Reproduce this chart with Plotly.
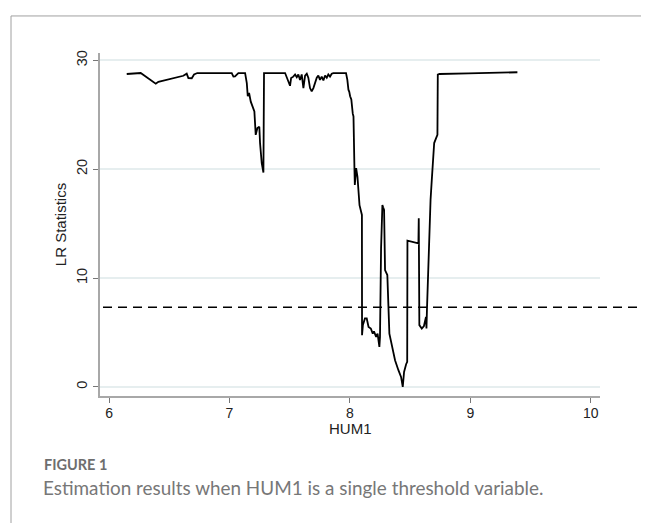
import plotly.graph_objects as go

# HUM1 threshold values and LR statistics
hum1 = [6.147, 6.263, 6.388, 6.41, 6.617, 6.645, 6.659, 6.687, 6.706, 6.733,
        7.019, 7.033, 7.046, 7.074, 7.13, 7.144, 7.152, 7.163, 7.177, 7.194,
        7.207, 7.218, 7.232, 7.248, 7.254, 7.268, 7.282, 7.287, 7.462, 7.503,
        7.512, 7.53, 7.545, 7.559, 7.572, 7.586, 7.6, 7.614, 7.628, 7.642,
        7.655, 7.669, 7.683, 7.697, 7.711, 7.725, 7.738, 7.752, 7.766, 7.78,
        7.794, 7.808, 7.821, 7.835, 7.849, 7.863, 7.968, 7.979, 7.988, 7.995,
        8.002, 8.012, 8.024, 8.03, 8.038, 8.041, 8.052, 8.063, 8.08, 8.092,
        8.1, 8.101, 8.108, 8.125, 8.14, 8.155, 8.174, 8.19, 8.2, 8.218,
        8.23, 8.245, 8.25, 8.259, 8.27, 8.276, 8.284, 8.292, 8.311, 8.328,
        8.347, 8.375, 8.403, 8.425, 8.439, 8.45, 8.467, 8.476, 8.478, 8.569,
        8.572, 8.577, 8.597, 8.615, 8.632, 8.636, 8.64, 8.652, 8.67, 8.68,
        8.694, 8.7, 8.716, 8.727, 8.73, 8.744, 8.984, 9.391]
lr_stat = [28.74, 28.83, 27.85, 28.03, 28.58, 28.77, 28.37, 28.35, 28.7, 28.83,
           28.83, 28.5, 28.52, 28.83, 28.83, 27.9, 26.7, 27.0, 26.2, 25.76,
           25.3, 23.15, 23.77, 23.9, 22.4, 20.55, 19.69, 28.83, 28.83, 27.66,
           28.37, 28.5, 28.7, 28.45, 28.7, 28.2, 28.7, 27.45, 28.6, 28.77,
           28.4, 27.45, 27.14, 27.45, 27.9, 28.4, 28.6, 28.2, 28.5, 28.15,
           28.6, 28.4, 28.7, 28.5, 28.77, 28.83, 28.83, 28.2, 27.3, 27.1,
           26.7, 26.4, 25.1, 24.84, 19.94, 18.56, 20.1, 19.3, 16.7, 15.97,
           15.8, 4.76, 5.68, 6.29, 6.29, 5.52, 5.37, 4.9, 5.1, 4.6,
           4.9, 3.68, 4.6, 12.73, 16.7, 16.5, 16.26, 10.74, 10.28, 4.9,
           3.99, 2.46, 1.54, 0.92, 0.0, 1.38, 2.09, 2.3, 13.43, 13.19,
           15.49, 5.68, 5.37, 5.6, 6.44, 5.37, 7.06, 11.35, 17.2, 19.0,
           21.47, 22.4, 22.85, 23.15, 28.68, 28.74, 28.8, 28.9]

critical_value = 7.33
x_ticks = [6, 7, 8, 9, 10]
y_ticks = [0, 10, 20, 30]

fig = go.Figure()
fig.add_trace(go.Scatter(x=hum1, y=lr_stat, mode="lines",
                         line=dict(color="black", width=1.8),
                         showlegend=False, hoverinfo="skip"))

# critical value dashed line
fig.add_shape(type="line", xref="paper", yref="y", x0=0.006, x1=1.2,
              y0=critical_value, y1=critical_value,
              line=dict(color="black", width=1.5, dash="9px,6px"))

# figure frame (top + left border)
fig.add_shape(type="rect", xref="paper", yref="paper", x0=-0.178, x1=1.25,
              y0=-1.0, y1=1.108, line=dict(color="#a0a0a0", width=1),
              layer="below")

# x axis title
fig.add_annotation(text="HUM1", xref="paper", yref="paper",
                   x=0.5, y=-0.0935, xanchor="center", yanchor="middle",
                   showarrow=False,
                   font=dict(family="Liberation Sans, Arial", size=15,
                             color="#222222"))

fig.add_annotation(text="<b>FIGURE 1</b>", xref="paper", yref="paper",
                   x=-0.116, y=-0.1997, xanchor="left", yanchor="middle",
                   showarrow=False,
                   font=dict(family="Lato", size=14.5, color="#6e6e6e"))
fig.add_annotation(text="Estimation results when HUM1 is a single threshold variable.",
                   xref="paper", yref="paper", x=-0.118, y=-0.268,
                   xanchor="left", yanchor="middle", showarrow=False,
                   font=dict(family="Lato", size=18.9, color="#777777"))

fig.update_layout(
    width=641, height=515,
    margin=dict(l=92, r=49, t=45, b=127),
    paper_bgcolor="white", plot_bgcolor="white",
    font=dict(family="Liberation Sans, Arial", size=14, color="#222222"),
    xaxis=dict(range=[5.925, 10.077], tickvals=x_ticks,
               ticktext=[str(v) for v in x_ticks],
               showgrid=False, zeroline=False, showline=True,
               linecolor="#a8a8a8", linewidth=1.5,
               ticks="outside", ticklen=5, tickcolor="#777", tickwidth=1,
               ticklabelstandoff=-2, tickfont=dict(size=14)),
    yaxis=dict(range=[-0.83, 30.67], tickvals=y_ticks,
               ticktext=[str(v) for v in y_ticks], tickangle=-90,
               showgrid=True, gridcolor="#e6eeef", gridwidth=1.5,
               zeroline=False, showline=True,
               linecolor="#a8a8a8", linewidth=1.5,
               ticks="outside", ticklen=5, tickcolor="#777", tickwidth=1,
               tickfont=dict(size=14.5),
               title=dict(text="LR Statistics", standoff=4,
                          font=dict(size=15, color="#222222"))),
)

fig.write_html("out.html")
